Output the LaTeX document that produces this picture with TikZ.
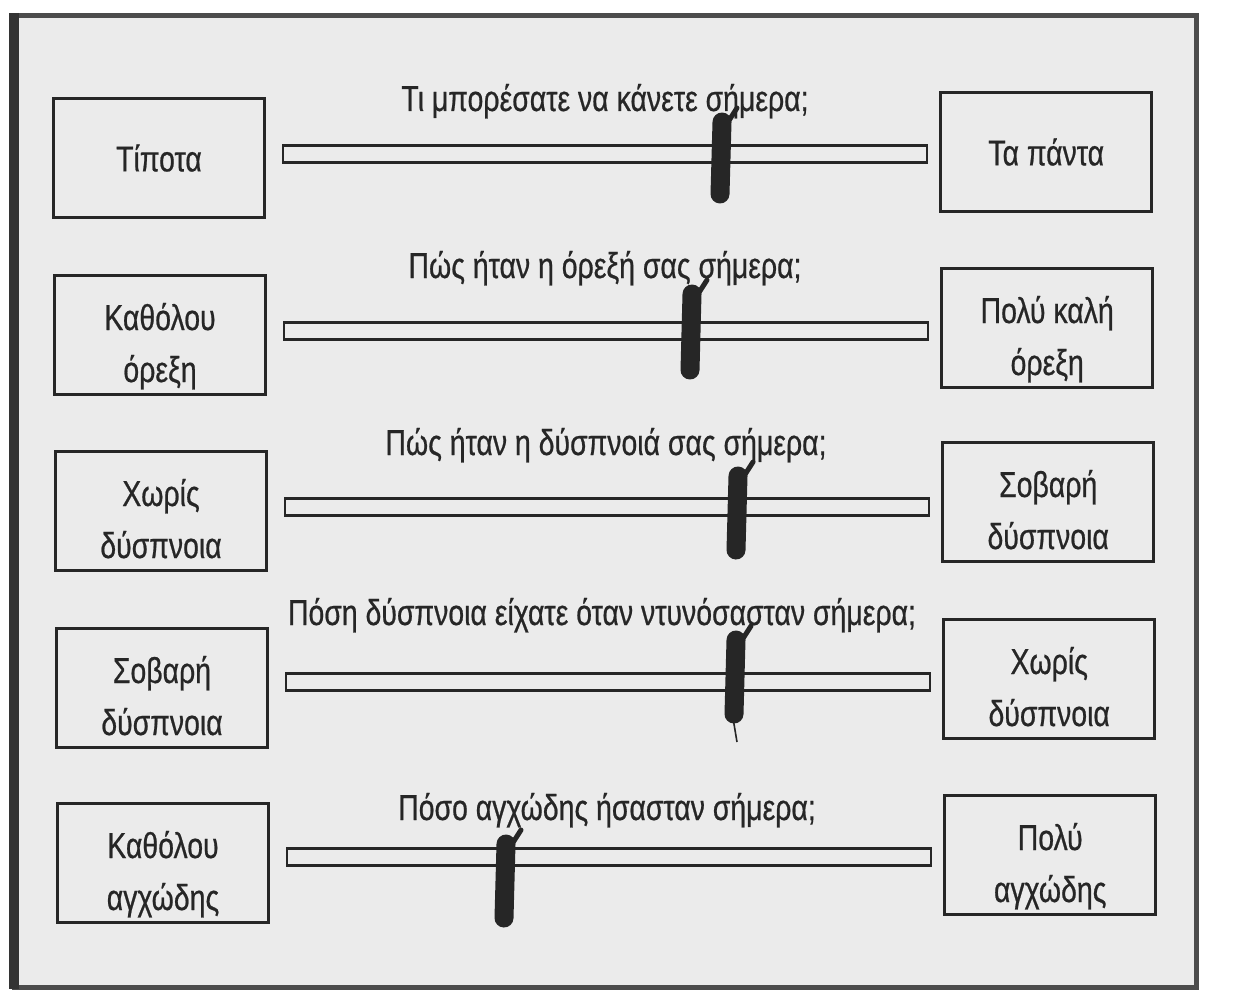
\documentclass[tikz,border=0pt]{standalone}
\usepackage{fontspec}
\setmainfont{Liberation Sans}[FakeStretch=0.79, FakeBold=0.6]
\usetikzlibrary{positioning}
\definecolor{paper}{rgb}{0.92,0.92,0.92}
\definecolor{ink}{rgb}{0.15,0.15,0.15}
\tikzstyle{answer}=[draw=ink, line width=2.8pt, minimum width=211pt, minimum height=119pt,
               align=center, text=ink, font=\fontsize{36}{52}\selectfont]
\tikzstyle{two lines}=[text height=94pt, text depth=0pt]
\tikzstyle{scalebar}=[draw=ink, line width=2.4pt, minimum width=644pt, minimum height=17pt,
               inner sep=0pt]
\tikzstyle{question}=[anchor=base, inner sep=0pt, text=ink, font=\fontsize{36}{40}\selectfont]
\tikzstyle{pen}=[line width=19pt, line cap=round, draw=ink]
\tikzstyle{pen tick}=[line width=5pt, line cap=round, draw=ink]

\begin{document}
\begin{tikzpicture}[x=1pt, y=-1pt]
\useasboundingbox (0,0) rectangle (1233,1003);
% frame
\draw[line width=5pt, draw=black!70, fill=paper] (14,16) rectangle (1196,987);
\draw[line width=10pt, draw=black!80] (14,13) -- (14,989);

% row 1
\node[answer] (l1) at (159,158) {Τίποτα};
\node[scalebar, right=16pt of l1, yshift=4pt] (bar1) {};
\node[answer, right=11pt of bar1, yshift=2pt] (r1) {Τα πάντα};
\node[question] (q1) at (605,111) {Τι μπορέσατε να κάνετε σήμερα;};

% row 2
\node[answer, two lines] (l2) at (160,335) {Καθόλου\\όρεξη};
\node[scalebar, right=16pt of l2, yshift=4pt] (bar2) {};
\node[answer, two lines, right=11pt of bar2, yshift=3pt] (r2) {Πολύ καλή\\όρεξη};
\node[question] (q2) at (605,278) {Πώς ήταν η όρεξή σας σήμερα;};

% row 3
\node[answer, two lines] (l3) at (161,511) {Χωρίς\\δύσπνοια};
\node[scalebar, right=16pt of l3, yshift=4pt] (bar3) {};
\node[answer, two lines, right=11pt of bar3, yshift=5pt] (r3) {Σοβαρή\\δύσπνοια};
\node[question] (q3) at (606,455) {Πώς ήταν η δύσπνοιά σας σήμερα;};

% row 4
\node[answer, two lines] (l4) at (162,688) {Σοβαρή\\δύσπνοια};
\node[scalebar, right=16pt of l4, yshift=6pt] (bar4) {};
\node[answer, two lines, right=11pt of bar4, yshift=3pt] (r4) {Χωρίς\\δύσπνοια};
\node[question] (q4) at (602,625) {Πόση δύσπνοια είχατε όταν ντυνόσασταν σήμερα;};

% row 5
\node[answer, two lines] (l5) at (163,863) {Καθόλου\\αγχώδης};
\node[scalebar, right=16pt of l5, yshift=6pt] (bar5) {};
\node[answer, two lines, right=11pt of bar5, yshift=2pt] (r5) {Πολύ\\αγχώδης};
\node[question] (q5) at (607,820) {Πόσο αγχώδης ήσασταν σήμερα;};

% pen marks
\foreach \mx/\mt/\mb in {722/122/194, 692/294/370, 738/476/550, 736/640/714, 506/844/918}
{
  \draw[pen] (\mx,\mt) -- (\mx-2,\mb);
  \draw[pen tick] (\mx+6,\mt) -- (\mx+15,\mt-14);
}
\draw[line width=1.6pt, draw=ink] (733,718) -- (737,742);
\end{tikzpicture}
\end{document}
